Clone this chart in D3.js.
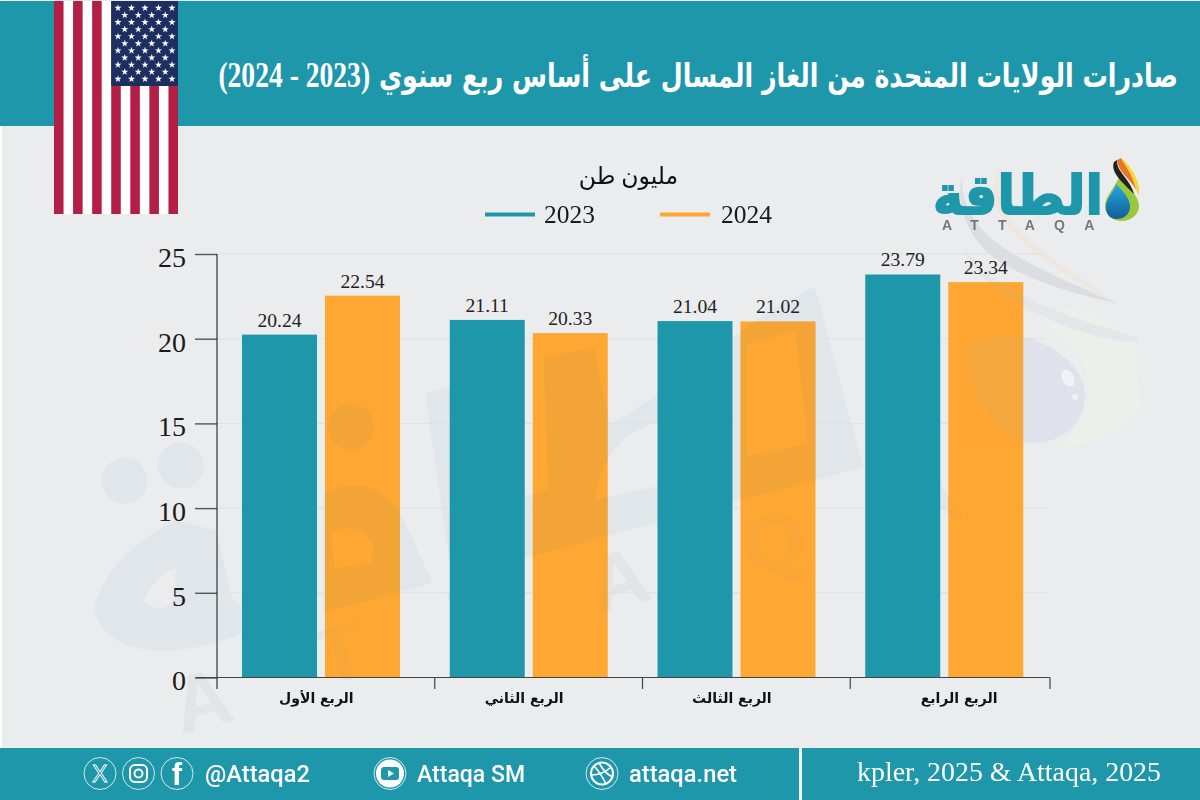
<!DOCTYPE html>
<html lang="ar">
<head>
<meta charset="utf-8">
<script src="https://cdn.jsdelivr.net/npm/d3@7/dist/d3.min.js"></script>
<style>
html,body{margin:0;padding:0;background:#fff;overflow:hidden}
svg{display:block}
text{font-family:"Liberation Serif","DejaVu Sans",serif}
</style>
</head>
<body>
<svg id="c" width="1200" height="800" viewBox="0 0 1200 800"></svg>
<script>
const titleMain = "صادرات الولايات المتحدة من الغاز المسال على أساس ربع سنوي ";
const titlePeriod = "(2023 - 2024)";
const unitText = "مليون طن";
const sourceText = "kpler, 2025 & Attaqa, 2025";
const quarters = ["الربع الأول","الربع الثاني","الربع الثالث","الربع الرابع"];
const years = ["2023","2024"];
const values2023 = [20.24,21.11,21.04,23.79];
const values2024 = [22.54,20.33,21.02,23.34];
const yTicks = [0,5,10,15,20,25];
const TEAL="#1f97ab", ORANGE="#ffa733", BG="#ebecee";

const svg=d3.select("#c");
const defs=svg.append("defs");
svg.append("rect").attr("width",1200).attr("height",800).attr("fill",BG);
svg.append("rect").attr("width",2).attr("height",800).attr("fill","#fff");

const seriesByYear={"2023":values2023,"2024":values2024};
const colorScale=d3.scaleOrdinal().domain(years).range([TEAL,ORANGE]);
const y=d3.scaleLinear().domain([0,25]).range([677.5,254]);
const x0=d3.scaleBand().domain(quarters).range([227,1058]);
const x1=d3.scaleBand().domain(years).range([15,173]).paddingInner(8/83);

function rightMark(g,f){
  g.append("path").attr("d","M1075,305 L1135,337 L1141,410 C1125,430 1090,447 1050,447 C1085,435 1095,400 1085,370 C1075,340 1050,330 1040,320Z").attr("fill",f?f:"#edefeb").attr("opacity",f?.25:1);
  g.append("path").attr("d","M960,240 C985,290 1060,315 1137,337 C1150,345 1100,345 1040,315 C1000,300 970,270 960,240Z").attr("fill",f?f:"#e4e6e9");
  g.append("path").attr("d","M963,173 C958,200 975,225 993,240 C1020,262 1075,285 1117,303 C1075,295 1010,275 985,250 C965,230 955,200 963,173Z").attr("fill",f?f:"#dcdde0");
  g.append("path").attr("d","M1007,153 C990,185 1000,215 1030,240 C1060,265 1090,285 1117,303 C1080,285 1010,245 995,205 C990,185 1000,165 1007,153Z").attr("fill",f?f:"#eee7df");
  g.append("path").attr("d","M1005,335 C1045,335 1085,365 1085,395 C1085,425 1060,443 1033,443 C1000,443 970,400 965,350 C975,340 990,335 1005,335Z").attr("fill",f?f:"#dfe2ea");
  if(!f){
    g.append("ellipse").attr("cx",1068).attr("cy",378).attr("rx",6).attr("ry",9).attr("transform","rotate(-25 1068 378)").attr("fill","#f1f2f5");
    g.append("circle").attr("cx",1075).attr("cy",397).attr("r",3).attr("fill","#f1f2f5");
  }
}
function leftMark(g,shapeFill,letterFill){
  g.append("path").attr("fill",shapeFill).attr("fill-rule","evenodd").attr("d",
   "M94,610 C100,575 135,540 175,520 L216,530 L233,600 C260,625 300,625 323,612 L323,495 C345,478 390,480 408,530 L433,583 L323,613 L240,634 C190,655 110,665 94,610Z M144,600 C150,585 165,570 176,568 L174,600 C165,612 150,610 144,600Z M331,535 C345,525 365,525 373,545 L372,563 L335,568Z");
  [[124.6,480.7],[181,465.7],[351,426.7]].forEach(p=>g.append("circle").attr("fill",shapeFill).attr("cx",p[0]).attr("cy",p[1]).attr("r",23));
  g.append("path").attr("fill",shapeFill).attr("fill-rule","evenodd").attr("d",
   "M425,393 L470,382 L505,500 L548,490 L544,357 L594,348 L610,425 C660,395 700,365 765,313 L815,287 L863,467 L742,500 L640,527 L530,557 L452,578Z M747,345 L795,330 L808,443 L747,457Z M595,500 C600,460 620,430 665,420 L725,470 L640,490Z");
  [["A",209,727],["T",348,680],["T",484,640],["A",626,606],["Q",781,568],["A",938,525]].forEach(l=>{
    g.append("text").attr("fill",letterFill).attr("transform",`translate(${l[1]},${l[2]}) rotate(-15)`).attr("text-anchor","middle")
      .attr("font-size",80).attr("font-weight",700).style("font-family","'Liberation Sans'").text(l[0]);
  });
}
rightMark(svg.append("g"));
leftMark(svg.append("g"),"#e1e6ea","#e2e4e6");

// gridlines
svg.append("g").selectAll("line").data(yTicks.slice(1)).join("line")
  .attr("x1",217).attr("x2",1047).attr("y1",d=>y(d)).attr("y2",d=>y(d))
  .attr("stroke","#dfe0e3").attr("stroke-width",1);

// bars
const groups=svg.append("g").selectAll("g").data(quarters).join("g")
  .attr("transform",q=>`translate(${x0(q)},0)`);
const rows=(q,i)=>years.map(yr=>({yr,v:seriesByYear[yr][i]}));
groups.selectAll("rect").data(rows).join("rect")
  .attr("x",d=>x1(d.yr)).attr("width",x1.bandwidth())
  .attr("y",d=>y(d.v)).attr("height",d=>y(0)-y(d.v))
  .attr("fill",d=>colorScale(d.yr));
groups.selectAll("text").data(rows).join("text")
  .attr("x",d=>x1(d.yr)+x1.bandwidth()/2).attr("y",d=>y(d.v)-8)
  .attr("text-anchor","middle").attr("font-size",19.6).attr("fill","#222")
  .text(d=>d.v.toFixed(2));

// watermark tint seen through the orange bars
const clip=defs.append("clipPath").attr("id","orangeBars");
clip.selectAll("rect").data(quarters).join("rect")
  .attr("x",q=>x0(q)+x1("2024")).attr("width",x1.bandwidth())
  .attr("y",(q,i)=>y(values2024[i])).attr("height",(q,i)=>y(0)-y(values2024[i]));
const tint=svg.append("g").attr("clip-path","url(#orangeBars)");
const tintShapes=tint.append("g").attr("opacity",.22);
leftMark(tintShapes,"#c99a4a","#d9a24a");
const tintR=tint.append("g").attr("opacity",.3);
rightMark(tintR,"#d8a858");

// axes
const yAxis=d3.axisLeft(y).tickValues(yTicks).tickSize(22).tickPadding(9).tickFormat(d3.format("d"));
const gy=svg.append("g").attr("transform","translate(217,0)").call(yAxis);
gy.select(".domain").remove();
gy.selectAll(".tick line").attr("stroke","#555").attr("stroke-width",1.4);
gy.selectAll(".tick text").attr("font-size",28).attr("fill","#1a1a1a").attr("dy","0.44em")
  .style("font-family","'Liberation Serif'");
svg.append("line").attr("x1",217).attr("x2",217).attr("y1",y(25)).attr("y2",689).attr("stroke","#111").attr("stroke-width",1);

const xAxis=d3.axisBottom(x0).tickSize(0).tickPadding(16);
const gx=svg.append("g").attr("transform",`translate(0,${y(0)})`).call(xAxis);
gx.select(".domain").remove();
gx.selectAll(".tick text").attr("font-size",14).attr("font-weight",700).attr("fill","#111")
  .attr("dx",(d,i)=>i===3?5:-14.5).style("font-family","'DejaVu Sans'").style("direction","rtl");
svg.append("line").attr("x1",196).attr("x2",1050).attr("y1",y(0)).attr("y2",y(0)).attr("stroke","#444").attr("stroke-width",1.2);
svg.append("g").selectAll("line").data(quarters.slice(1)).join("line")
  .attr("x1",q=>x0(q)).attr("x2",q=>x0(q)).attr("y1",y(0)).attr("y2",689)
  .attr("stroke","#444").attr("stroke-width",1.2);
svg.append("line").attr("x1",1050).attr("x2",1050).attr("y1",y(0)).attr("y2",689).attr("stroke","#444").attr("stroke-width",1.2);

// legend
svg.append("text").attr("x",628.5).attr("y",184).attr("text-anchor","middle").attr("font-size",23.5).attr("fill","#111")
  .style("direction","rtl").text(unitText);
const lx=d3.scalePoint().domain(years).range([485,660]);
const lg=svg.append("g").selectAll("g").data(years).join("g").attr("transform",d=>`translate(${lx(d)},0)`);
lg.append("line").attr("x1",0).attr("x2",50).attr("y1",214.5).attr("y2",214.5).attr("stroke",d=>colorScale(d)).attr("stroke-width",4);
lg.append("text").attr("x",(d,i)=>i?61:59).attr("y",223).attr("font-size",25.5).attr("fill","#1a1a1a").text(d=>d);

// header
svg.append("rect").attr("y",1).attr("width",1200).attr("height",125).attr("fill",TEAL);
const title=svg.append("text").attr("y",87).attr("font-weight",700).attr("fill","#fff").style("direction","rtl");
title.append("tspan").attr("font-size",33).style("font-family","'DejaVu Sans'").text(titleMain);
title.append("tspan").attr("font-size",36).style("font-family","'Liberation Serif'").text(titlePeriod);
const natural=title.node().getComputedTextLength();
title.attr("transform",`translate(1178,0) scale(${960/natural},1)`).attr("x",0);

// flag
const flag=svg.append("g").attr("transform","translate(54,1)");
const stripeX=d3.scaleBand().domain(d3.range(13)).range([0,124]);
flag.append("rect").attr("width",124).attr("height",213).attr("fill","#fff");
flag.selectAll("rect.s").data(d3.range(0,13,2)).join("rect").attr("class","s")
  .attr("x",i=>stripeX(i)).attr("width",stripeX.bandwidth()).attr("height",213).attr("fill","#b31e45");
flag.append("rect").attr("x",stripeX(6)).attr("width",124-stripeX(6)).attr("height",85).attr("fill","#1d2f60");
const starPath=d3.symbol().type(d3.symbolStar).size(16)();
const rowY=d3.scalePoint().domain(d3.range(11)).range([7,78]);
const colX=d3.scalePoint().domain(d3.range(9)).range([64,118]);
d3.range(11).forEach(r=>{
  d3.range(9).filter(c=>(c%2)===(r%2)).forEach(c=>{
    flag.append("path").attr("d",starPath).attr("fill","#fff").attr("transform",`translate(${colX(c)},${rowY(r)})`);
  });
});

// logo
const logo=svg.append("g");
logo.append("text").attr("transform","translate(1103,214) scale(1,1.05)").attr("font-size",52).attr("font-weight",700).attr("fill",TEAL)
  .attr("stroke",TEAL).attr("stroke-width",1.8)
  .style("font-family","'DejaVu Sans'").style("direction","rtl").attr("textLength",170).attr("lengthAdjust","spacingAndGlyphs").text("الطاقة");
logo.append("text").attr("x",942).attr("y",229.5).attr("font-size",14).attr("font-weight",700).attr("fill","#777")
  .attr("letter-spacing","19.2px").style("font-family","'Liberation Sans'").text("ATTAQA");
const g1=defs.append("linearGradient").attr("id","drop").attr("x1",0).attr("y1",0).attr("x2",0).attr("y2",1);
g1.append("stop").attr("offset",0).attr("stop-color","#2aa7e0");
g1.append("stop").attr("offset",1).attr("stop-color","#0f5f96");
logo.append("path").attr("d","M1119,177 C1130,186 1139,198 1139,206 C1139,215 1130,221 1122,221 C1112,221 1105,214 1105,206 C1105,196 1115,188 1119,177Z").attr("fill","#9ac83c");
logo.append("path").attr("d","M1121,158 C1130,165 1141,180 1139,196 C1135,184 1125,176 1120,170Z").attr("fill","#f3d73a");
logo.append("path").attr("d","M1117,160 C1118,172 1130,178 1136,190 C1132,172 1124,165 1121,158Z").attr("fill","#e8752a");
logo.append("path").attr("d","M1114,162 C1110,172 1122,182 1134,194 C1130,178 1116,172 1117,160Z").attr("fill","#222");
logo.append("path").attr("d","M1116,184 C1124,192 1131,200 1130,208 C1129,216 1122,219 1116,219 C1109,219 1105,212 1106,205 C1107,197 1114,192 1116,184Z").attr("fill","url(#drop)");

// footer
svg.append("rect").attr("y",748).attr("width",1200).attr("height",52).attr("fill",TEAL);
svg.append("rect").attr("x",799).attr("y",747).attr("width",3).attr("height",53).attr("fill","#f2f4f5");
svg.append("text").attr("x",857).attr("y",781).attr("font-size",27).attr("fill","#fff")
  .attr("textLength",304).attr("lengthAdjust","spacingAndGlyphs").text(sourceText);
const foot=svg.append("g");
[100,138.5,177,390,602].forEach(cx=>foot.append("circle").attr("cx",cx).attr("cy",773.5).attr("r",16).attr("fill","none").attr("stroke","#fff").attr("stroke-width",.8));
foot.append("text").attr("x",100).attr("y",782).attr("text-anchor","middle").attr("font-size",23).attr("fill","none").attr("stroke","#fff").attr("stroke-width",.9).style("font-family","'Liberation Sans'").text("X");
foot.append("rect").attr("x",130).attr("y",765).attr("width",17).attr("height",17).attr("rx",5).attr("fill","none").attr("stroke","#fff").attr("stroke-width",2);
foot.append("circle").attr("cx",138.5).attr("cy",773.5).attr("r",4).attr("fill","none").attr("stroke","#fff").attr("stroke-width",2);
foot.append("text").attr("x",177).attr("y",785).attr("text-anchor","middle").attr("font-size",31).attr("font-weight",700).attr("fill","#fff").style("font-family","'Liberation Sans'").text("f");
foot.append("circle").attr("cx",390).attr("cy",773.5).attr("r",14).attr("fill","#fff");
foot.append("rect").attr("x",381).attr("y",767).attr("width",18).attr("height",13).attr("rx",3).attr("fill",TEAL);
foot.append("path").attr("d","M388,770 L394,773.5 L388,777Z").attr("fill","#fff");
foot.append("circle").attr("cx",602).attr("cy",773.5).attr("r",11).attr("fill","none").attr("stroke","#fff").attr("stroke-width",2);
foot.append("path").attr("d","M594,766 C600,772 604,780 606,784 M591,775 C598,775 606,772 611,767 M599,763 C603,770 607,775 613,777").attr("fill","none").attr("stroke","#fff").attr("stroke-width",1.6);
[["@Attaqa2",205,105],["Attaqa SM",417,108],["attaqa.net",629,108]].forEach(t=>{
  foot.append("text").attr("x",t[1]).attr("y",782).attr("font-size",24).attr("font-weight",500).attr("fill","#fff")
    .style("font-family","Roboto").attr("textLength",t[2]).attr("lengthAdjust","spacingAndGlyphs").text(t[0]);
});
</script>
</body>
</html>
